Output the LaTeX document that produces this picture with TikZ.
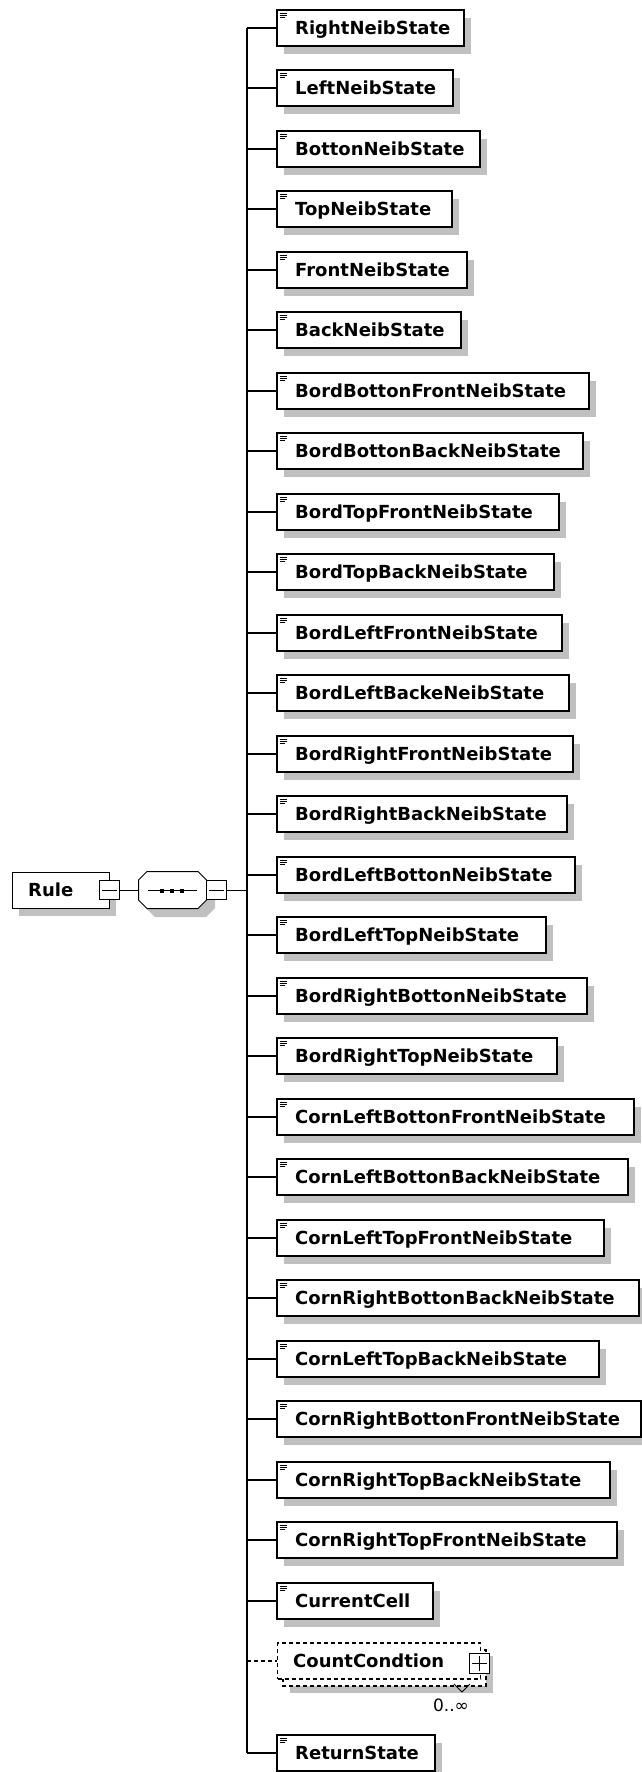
\documentclass[tikz,border=0pt]{standalone}
\usepackage{fontspec}
\newfontfamily\dvs{DejaVu Sans}
\usetikzlibrary{calc}
\definecolor{shadowc}{RGB}{192,192,192}
\tikzset{
  boxline/.style={draw=black, line width=2pt, fill=white},
  childbox/.style={boxline, rectangle, minimum height=36pt, inner sep=0pt, anchor=west},
  lbl/.style={font=\dvs\bfseries\fontsize{18}{20}\selectfont, inner sep=0pt, anchor=base west},
  conn/.style={line width=2pt, draw=black},
  thinline/.style={line width=1pt, draw=black},
  iconline/.style={line width=1pt, draw=black},
  shadowfill/.style={fill=shadowc},
  pmbox/.style={draw=black, line width=1pt, fill=white, minimum width=20pt, minimum height=19pt, inner sep=0pt},
  dsh/.style={dash pattern=on 4pt off 3pt, line width=1.2pt},
}
\newcommand\childrow[4]{%
  \pgfmathsetmacro\yy{round(#2)}%
  \pgfmathsetmacro\ww{#4-276}%
  \fill[shadowfill] (284,\yy-10) rectangle (#4+8,\yy+26);
  \node[childbox, minimum width=\ww pt] (c#1) at (276,\yy) {};
  \node[lbl] (t#1) at (295,\yy+6) {#3};
  \draw[iconline] (279.5,\yy-14.5) -- (287,\yy-14.5) (279.5,\yy-12.5) -- (287,\yy-12.5) (279.5,\yy-10.5) -- (285,\yy-10.5);
  \coordinate (j#1) at (247,\yy);
  \draw[conn] (j#1) -- (c#1.west);
}
\begin{document}
\begin{tikzpicture}[x=1pt,y=-1pt]
\useasboundingbox (0,0) rectangle (642,1772);

% Rule element
\fill[shadowfill] (19,880) rectangle (116,916);
\node[boxline, line width=1pt, minimum width=97pt, minimum height=36pt, inner sep=0pt, anchor=west] (rule) at (11.5,890) {};
\node[lbl] (rulet) at (28,896) {Rule};
\node[pmbox] (rulemin) at (rule.east) {};
\draw[thinline] ([xshift=3pt]rulemin.west) -- ([xshift=-3pt]rulemin.east);

% sequence compositor
\fill[shadowfill] (146,888) -- (155,879) -- (206,879) -- (215,888) -- (215,908) -- (206,917) -- (155,917) -- (146,908) -- cycle;
\filldraw[thinline, fill=white] (138.5,880) -- (147,871.5) -- (198,871.5) -- (206.5,880) -- (206.5,900) -- (198,908.5) -- (147,908.5) -- (138.5,900) -- cycle;
\node[minimum width=68pt, minimum height=37pt, inner sep=0pt] (seq) at (172.5,890) {};
\draw[thinline] (rulemin.east) -- (seq.west);
\draw[thinline] (148,890.5) -- (197,890.5);
\fill (160,888.5) rectangle (164,892.5);
\fill (170,888.5) rectangle (174,892.5);
\fill (180,888.5) rectangle (184,892.5);
\node[pmbox] (seqmin) at (216.5,890) {};
\draw[thinline] ([xshift=3pt]seqmin.west) -- ([xshift=-3pt]seqmin.east);

% children
\childrow{0}{27.5+0*60.5}{RightNeibState}{463}
\childrow{1}{27.5+1*60.5}{LeftNeibState}{452}
\childrow{2}{27.5+2*60.5}{BottonNeibState}{479}
\childrow{3}{27.5+3*60.5}{TopNeibState}{451}
\childrow{4}{27.5+4*60.5}{FrontNeibState}{466}
\childrow{5}{27.5+5*60.5}{BackNeibState}{460}
\childrow{6}{27.5+6*60.5}{BordBottonFrontNeibState}{588}
\childrow{7}{27.5+7*60.5}{BordBottonBackNeibState}{582}
\childrow{8}{27.5+8*60.5}{BordTopFrontNeibState}{558}
\childrow{9}{27.5+9*60.5}{BordTopBackNeibState}{553}
\childrow{10}{27.5+10*60.5}{BordLeftFrontNeibState}{561}
\childrow{11}{27.5+11*60.5}{BordLeftBackeNeibState}{568}
\childrow{12}{27.5+12*60.5}{BordRightFrontNeibState}{572}
\childrow{13}{27.5+13*60.5}{BordRightBackNeibState}{566}
\childrow{14}{27.5+14*60.5}{BordLeftBottonNeibState}{574}
\childrow{15}{27.5+15*60.5}{BordLeftTopNeibState}{545}
\childrow{16}{27.5+16*60.5}{BordRightBottonNeibState}{586}
\childrow{17}{27.5+17*60.5}{BordRightTopNeibState}{556}
\childrow{18}{27.5+18*60.5}{CornLeftBottonFrontNeibState}{633}
\childrow{19}{27.5+19*60.5}{CornLeftBottonBackNeibState}{627}
\childrow{20}{27.5+20*60.5}{CornLeftTopFrontNeibState}{603}
\childrow{21}{27.5+21*60.5}{CornRightBottonBackNeibState}{638}
\childrow{22}{27.5+22*60.5}{CornLeftTopBackNeibState}{598}
\childrow{23}{27.5+23*60.5}{CornRightBottonFrontNeibState}{640}
\childrow{24}{27.5+24*60.5}{CornRightTopBackNeibState}{609}
\childrow{25}{27.5+25*60.5}{CornRightTopFrontNeibState}{616}
\childrow{26}{27.5+26*60.5}{CurrentCell}{432}
\childrow{28}{1753}{ReturnState}{434}

% CountCondtion (optional, repeated)
\fill[shadowfill] (290,1656) rectangle (493,1693);
\draw[dsh, fill=white] (283,1650) rectangle (486,1686);
\node[draw, dsh, fill=white, minimum width=203pt, minimum height=36pt, inner sep=0pt, anchor=west] (c27) at (277,1661) {};
\node[lbl] (t27) at (293,1667) {CountCondtion};
\node[pmbox, minimum height=20pt] (ccplus) at (479,1663) {};
\draw[thinline] ([xshift=3pt]ccplus.west) -- ([xshift=-3pt]ccplus.east)
                ([yshift=-3pt]ccplus.north) -- ([yshift=3pt]ccplus.south);
\draw[thinline] (454,1684) -- (462,1692) -- (470,1684);
\node[font=\dvs\fontsize{17}{20}\selectfont, inner sep=0pt] (occ) at (451,1705) {0..∞};
\coordinate (j27) at (247,1661);
\draw[dsh] (j27) -- (c27.west);

% trunk
\draw[conn] (j0) -- (j28);
\draw[thinline] (seqmin.east) -- (seqmin.east -| j0);
\end{tikzpicture}
\end{document}
